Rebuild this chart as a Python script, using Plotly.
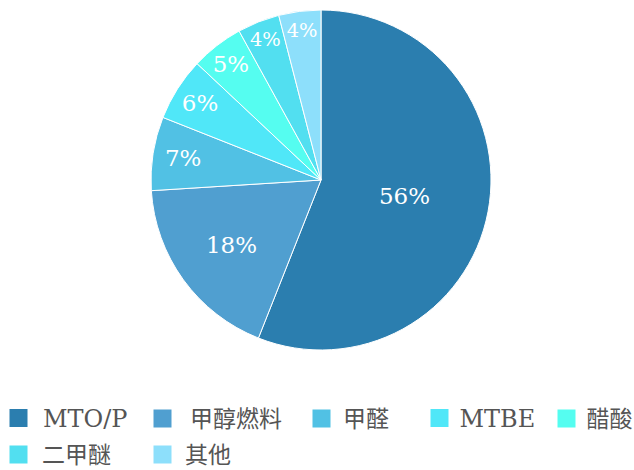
import plotly.graph_objects as go

labels = ["MTO/P", "甲醇燃料", "甲醛", "MTBE", "醋酸", "二甲醚", "其他"]
values = [56, 18, 7, 6, 5, 4, 4]
colors = ["#2b7eaf", "#509fd0", "#51c1e4", "#50e7f8", "#55fdf0", "#52dff0", "#8ddffb"]

W, H = 634, 470
# legend layout (px): symbol centre x, text start x, row centre y
legend_cx = [18.5, 162.5, 321.5, 439.5, 566.5, 18.5, 162.5]
legend_tx = [43, 190, 343, 459.5, 586.5, 42, 185]
legend_cy = [418.5, 418.5, 418.5, 418.5, 418.5, 454.5, 454.5]

fig = go.Figure()
fig.add_trace(go.Pie(
    labels=labels,
    values=values,
    sort=False,
    direction="clockwise",
    rotation=0,
    marker=dict(colors=colors, line=dict(color="white", width=1)),
    texttemplate="%{value}%",
    textposition="inside",
    insidetextorientation="horizontal",
    textfont=dict(family="DejaVu Serif, serif", size=23, color="white"),
    domain=dict(x=[151/W, 491/W], y=[1-350/H, 1-10/H]),
    hoverinfo="label+percent",
    showlegend=False,
))

layout_legends = {}
for i, (lab, col) in enumerate(zip(labels, colors)):
    key = "legend" if i == 0 else f"legend{i+1}"
    gap = max(20.0, legend_tx[i] - legend_cx[i])
    itemwidth = 2 * (gap - 5)
    is_latin = lab.isascii()
    fig.add_trace(go.Scatter(
        x=[None], y=[None], mode="markers", name=lab,
        marker=dict(symbol="square", size=16, color=col, line=dict(color=col, width=2)),
        legend=key, showlegend=True, hoverinfo="skip",
    ))
    layout_legends[key] = dict(
        orientation="h",
        x=(legend_cx[i] - gap) / W, y=1 - legend_cy[i] / H,
        xanchor="left", yanchor="middle",
        font=dict(family="DejaVu Serif, Noto Sans CJK SC, serif",
                  size=24 if is_latin else 23, color="#555555"),
        itemwidth=itemwidth,
        bgcolor="rgba(0,0,0,0)", borderwidth=0,
        itemclick=False, itemdoubleclick=False,
    )

fig.update_layout(
    width=W, height=H,
    margin=dict(l=0, r=0, t=0, b=0, autoexpand=False),
    paper_bgcolor="white",
    plot_bgcolor="white",
    xaxis=dict(visible=False),
    yaxis=dict(visible=False),
    **layout_legends,
)

fig.write_html("out.html", config={"displayModeBar": False},
               post_script="document.body.style.margin='0';")
